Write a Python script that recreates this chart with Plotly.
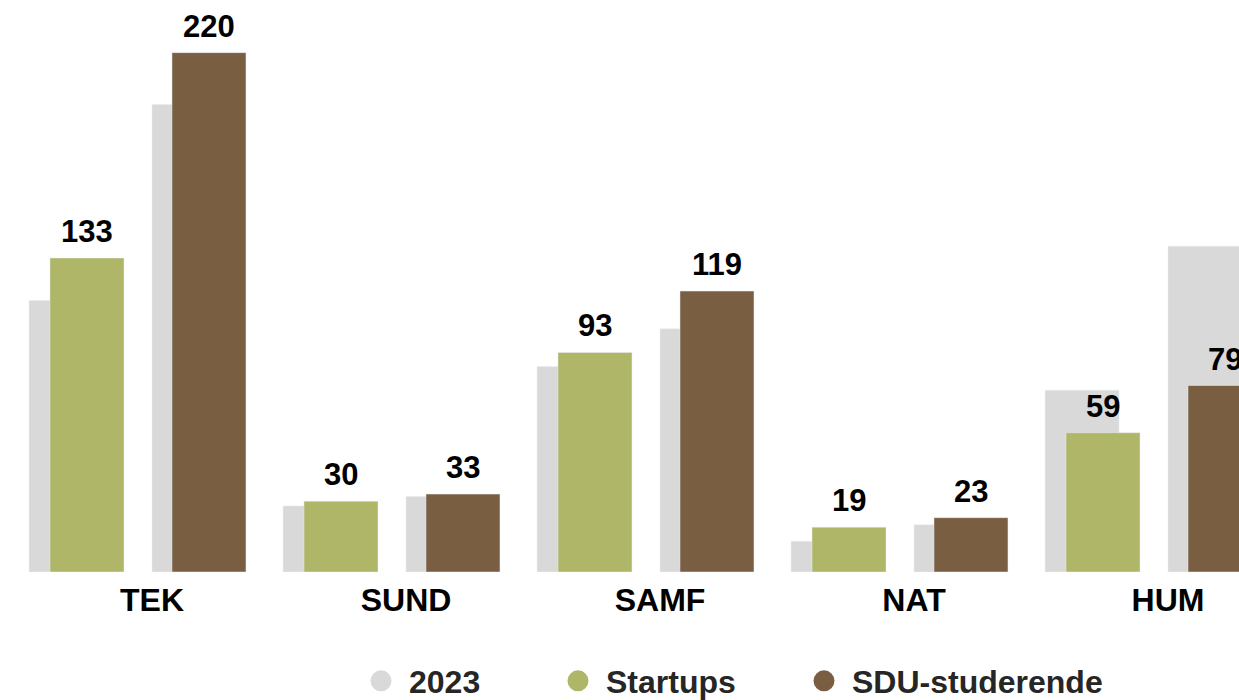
import plotly.graph_objects as go

categories = ["TEK", "SUND", "SAMF", "NAT", "HUM"]
startups = [133, 30, 93, 19, 59]
sdu_studerende = [220, 33, 119, 23, 79]
startups_2023 = [115, 28, 87, 13, 77]
sdu_2023 = [198, 32, 103, 20, 138]

GREY = "#D9D9D9"
GREEN = "#AFB668"
BROWN = "#7A5E42"
FONT = "Liberation Sans, Arial, sans-serif"

xs = list(range(len(categories)))
W = 0.2913
OFF_G1, OFF_S, OFF_G2, OFF_B = -0.484, -0.4016, 0.0, 0.0787

fig = go.Figure()
fig.add_trace(go.Bar(x=xs, y=startups_2023, offset=OFF_G1, width=W, marker_color=GREY,
                     showlegend=False, hoverinfo="y"))
fig.add_trace(go.Bar(x=xs, y=startups, offset=OFF_S, width=W, marker_color=GREEN,
                     showlegend=False, hoverinfo="y"))
fig.add_trace(go.Bar(x=xs, y=sdu_2023, offset=OFF_G2, width=W, marker_color=GREY,
                     showlegend=False, hoverinfo="y"))
fig.add_trace(go.Bar(x=xs, y=sdu_studerende, offset=OFF_B, width=W, marker_color=BROWN,
                     showlegend=False, hoverinfo="y"))

# legend entries (circles)
for name, col, lg in [("2023", GREY, "legend"), ("Startups", GREEN, "legend2"),
                      ("SDU-studerende", BROWN, "legend3")]:
    fig.add_trace(go.Scatter(x=[None], y=[None], mode="markers", name=name,
                             marker=dict(symbol="circle", size=30, color=col,
                                         line=dict(color=col, width=5)),
                             legend=lg, showlegend=True))

annos = []
for vals, off in [(startups, OFF_S), (sdu_studerende, OFF_B)]:
    for i, v in enumerate(vals):
        annos.append(dict(x=xs[i] + off + W / 2, y=v, xref="x", yref="y", text=str(v),
                          showarrow=False, yanchor="bottom", yshift=7,
                          font=dict(family=FONT, size=31, color="black", weight="bold")))

leg_common = dict(orientation="h", yanchor="middle", xanchor="left",
                  xref="container", yref="container", y=1 - 681 / 700,
                  itemwidth=46, bgcolor="rgba(0,0,0,0)",
                  font=dict(family=FONT, size=32, color="#262626", weight="bold"))

fig.update_layout(
    barmode="overlay",
    width=1239, height=700,
    margin=dict(l=0, r=0, t=0, b=128, autoexpand=False),
    plot_bgcolor="white", paper_bgcolor="white",
    annotations=annos,
    xaxis=dict(range=[-0.5984, 4.2795], tickvals=xs, ticktext=categories,
               showgrid=False, zeroline=False, showline=False, ticks="",
               ticklabelstandoff=6,
               tickfont=dict(family=FONT, size=32, color="black", weight="bold")),
    yaxis=dict(range=[0, 242.3], visible=False, showgrid=False, zeroline=False),
    legend=dict(x=(366 - 13) / 1239, **leg_common),
    legend2=dict(x=(563 - 13) / 1239, **leg_common),
    legend3=dict(x=(809 - 13) / 1239, **leg_common),
)

fig.write_html("out.html", config={"displayModeBar": False},
               post_script="document.body.style.margin='0';document.body.style.overflow='hidden';")
